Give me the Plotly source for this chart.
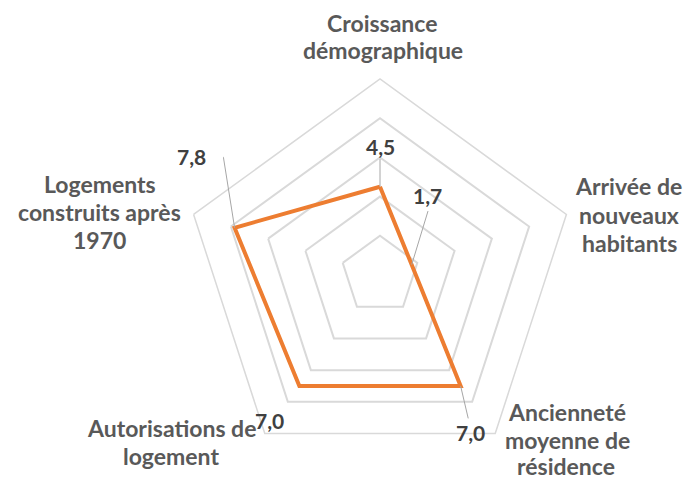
import math
import plotly.graph_objects as go

# ---- data ----
categories = [
    "Croissance démographique",
    "Arrivée de nouveaux habitants",
    "Ancienneté moyenne de résidence",
    "Autorisations de logement",
    "Logements construits après 1970",
]
values = [4.5, 1.7, 7.0, 7.0, 7.8]
value_labels = ["4,5", "1,7", "7,0", "7,0", "7,8"]
radial_max = 10
radial_step = 2

# ---- styling / positions ----
ORANGE = "#ED7D31"
GRID = "#D9D9D9"
LEADER = "#A6A6A6"
CAT_COLOR = "#595959"
LBL_COLOR = "#404040"
FONT = "Lato"
CAT_SIZE = 23
LBL_SIZE = 21

# category label lines: (text, x_px, y_px)
cat_lines = [
    [("Croissance", 382, 23), ("démographique", 383, 50)],
    [("Arrivée de", 628, 186), ("nouveaux", 629, 215), ("habitants", 629, 243)],
    [("Ancienneté", 567, 412), ("moyenne de", 567, 440), ("résidence", 566, 466)],
    [("Autorisations de", 171, 428), ("logement", 171, 456)],
    [("Logements", 100, 184), ("construits après", 99, 212), ("1970", 99, 240)],
]

# data-label leader lines and label positions, polar coords (r, angle deg clockwise from top)
leader_pts = [
    [(5.92, 0)],
    [(4.08, 36.9)],
    [(8.59, 148.4)],
    [],
    [(10.08, 307.4), (10.49, 305.7)],
]
label_pos = [(6.58, 0), (4.69, 30.75), (9.30, 150.06), (9.32, 217.4), (11.36, 302.15)]

W, H = 684, 480
CX, CY, R = 380, 275, 196
dom_x = [(CX - R) / W, (CX + R) / W]
dom_y = [(H - CY - R) / H, (H - CY + R) / H]

n = len(categories)
angles = [360 * i / n for i in range(n)]

fig = go.Figure()

# main series
fig.add_trace(go.Scatterpolar(
    r=values + [values[0]],
    theta=categories + [categories[0]],
    mode="lines",
    line=dict(color=ORANGE, width=4),
    subplot="polar",
    showlegend=False,
    hoverinfo="skip",
))

# leader lines
for i in range(n):
    if not leader_pts[i]:
        continue
    rr = [values[i]] + [p[0] for p in leader_pts[i]]
    tt = [angles[i]] + [p[1] for p in leader_pts[i]]
    fig.add_trace(go.Scatterpolar(
        r=rr, theta=tt, mode="lines",
        line=dict(color=LEADER, width=1),
        subplot="polar2", showlegend=False, hoverinfo="skip", cliponaxis=False,
    ))

fig.update_layout(
    width=W, height=H,
    margin=dict(l=0, r=0, t=0, b=0),
    paper_bgcolor="white",
    plot_bgcolor="white",
    polar=dict(
        domain=dict(x=dom_x, y=dom_y),
        bgcolor="rgba(0,0,0,0)",
        gridshape="linear",
        radialaxis=dict(
            range=[0, radial_max], dtick=radial_step, tick0=0,
            showticklabels=False, ticks="", showline=False,
            gridcolor=GRID, gridwidth=1.5,
        ),
        angularaxis=dict(
            type="category", categoryarray=categories, categoryorder="array",
            rotation=90, direction="clockwise",
            showgrid=False, showticklabels=False, ticks="",
            showline=True, linecolor=GRID, linewidth=1.5,
        ),
    ),
    polar2=dict(
        domain=dict(x=dom_x, y=dom_y),
        bgcolor="rgba(0,0,0,0)",
        radialaxis=dict(range=[0, radial_max], visible=False),
        angularaxis=dict(rotation=90, direction="clockwise", visible=False, thetaunit="degrees"),
    ),
)

# value labels, positioned with the same polar geometry
for txt, (r, th) in zip(value_labels, label_pos):
    px = CX + R * r / radial_max * math.sin(math.radians(th))
    py = CY - R * r / radial_max * math.cos(math.radians(th))
    fig.add_annotation(
        text=txt, x=px / W, y=1 - py / H, xref="paper", yref="paper",
        xanchor="center", yanchor="middle", showarrow=False,
        font=dict(family=FONT, size=LBL_SIZE, color=LBL_COLOR, weight="bold"),
    )

for lines in cat_lines:
    for txt, x, y in lines:
        fig.add_annotation(
            text=txt, x=x / W, y=1 - y / H, xref="paper", yref="paper",
            xanchor="center", yanchor="middle", showarrow=False,
            font=dict(family=FONT, size=CAT_SIZE, color=CAT_COLOR, weight="bold"),
        )

fig.write_html(
    "out.html",
    config={"displayModeBar": False},
    post_script="document.body.style.margin='0';",
)
